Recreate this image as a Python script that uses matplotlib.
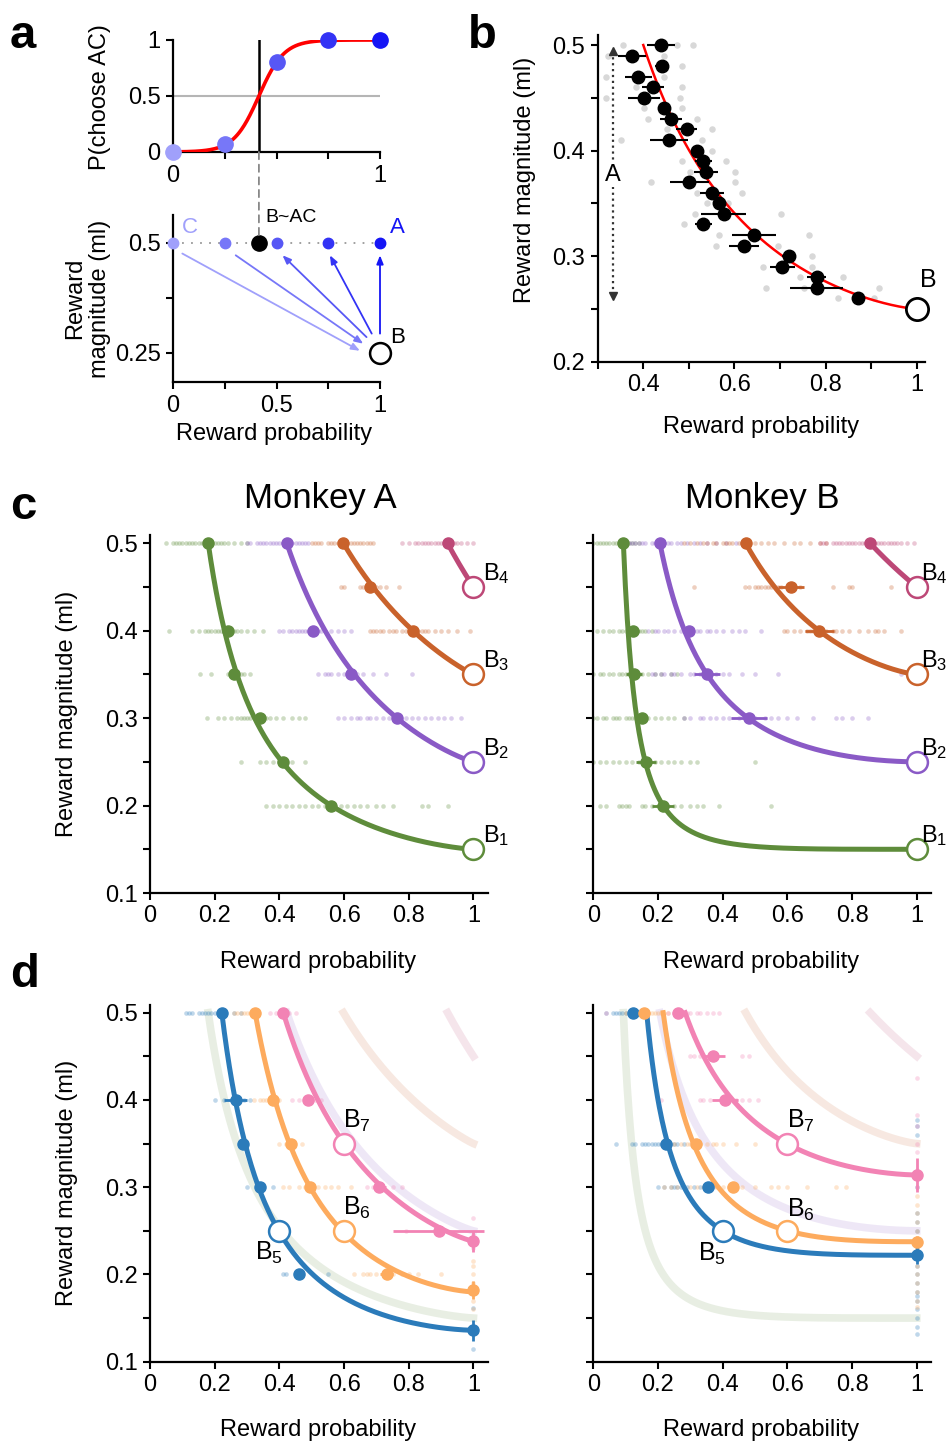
import numpy as np
import matplotlib
matplotlib.use('Agg')
import matplotlib.pyplot as plt
from matplotlib.patches import ConnectionPatch

plt.rcParams['font.family'] = ['Liberation Sans', 'DejaVu Sans']
plt.rcParams['mathtext.fontset'] = 'custom'
plt.rcParams['mathtext.rm'] = 'Liberation Sans'
plt.rcParams['mathtext.it'] = 'Liberation Sans'
plt.rcParams['axes.linewidth'] = 1.6

# ---- panel a: choice between B and gamble AC ----
a_prob = [0, 0.25, 0.5, 0.75, 1]
a_choice = [0, 0.07, 0.8, 1, 1]
a_colors = ['#a0a0fb', '#7777f8', '#5757f5', '#3333f5', '#1515f5']
a_mid = 0.415      # indifference point of the fitted logistic
a_width = 0.061    # logistic slope parameter

# ---- panel b: one indifference curve ----
b_prob = [0.439, 0.376, 0.440, 0.389, 0.422, 0.401, 0.446, 0.460, 0.495, 0.456,
          0.517, 0.532, 0.537, 0.501, 0.551, 0.565, 0.576, 0.532, 0.643, 0.620,
          0.719, 0.705, 0.780, 0.780, 0.870]
b_mag = [0.50, 0.49, 0.48, 0.47, 0.46, 0.45, 0.44, 0.43, 0.42, 0.41,
         0.40, 0.39, 0.38, 0.37, 0.36, 0.35, 0.34, 0.33, 0.32, 0.31,
         0.30, 0.29, 0.28, 0.27, 0.26]
b_err = [0.030, 0.031, 0.015, 0.030, 0.024, 0.035, 0.013, 0.024, 0.023, 0.041,
         0.011, 0.019, 0.026, 0.043, 0.026, 0.013, 0.050, 0.018, 0.049, 0.033,
         0.015, 0.027, 0.020, 0.058, 0.013]
b_gray_prob = [0.356, 0.473, 0.508, 0.323, 0.445, 0.484, 0.318, 0.445, 0.385, 0.484,
               0.318, 0.480, 0.402, 0.485, 0.411, 0.517, 0.451, 0.551, 0.351, 0.528,
               0.551, 0.486, 0.581, 0.502, 0.601, 0.418, 0.601, 0.517, 0.617, 0.539,
               0.585, 0.513, 0.702, 0.490, 0.565, 0.764, 0.559, 0.695, 0.771, 0.770,
               0.662, 0.744, 0.839, 0.669, 0.752, 0.917, 0.828, 0.907]
b_gray_mag = [0.50, 0.50, 0.50, 0.49, 0.49, 0.48, 0.47, 0.47, 0.46, 0.46,
              0.45, 0.45, 0.44, 0.44, 0.43, 0.43, 0.42, 0.42, 0.41, 0.41,
              0.40, 0.39, 0.39, 0.38, 0.38, 0.37, 0.37, 0.36, 0.36, 0.35,
              0.35, 0.34, 0.34, 0.33, 0.32, 0.32, 0.31, 0.31, 0.30, 0.29,
              0.29, 0.28, 0.28, 0.27, 0.27, 0.27, 0.26, 0.26]
b_curve = (0.25, 0.40, 1.38)   # B magnitude, p at 0.5 ml, curvature

# ---- panel c: curves B1..B4 ----
c_colors = ['#5e8c3b', '#8a5ac6', '#c9622b', '#bd4877']
c_labels = ['1', '2', '3', '4']
c_mB = [0.15, 0.25, 0.35, 0.45]
cA_top = [0.18, 0.423, 0.598, 0.92]
cA_gamma = [1.32, 1.15, 1.08, 1.0]
cB_top = [0.093, 0.206, 0.471, 0.856]
cB_gamma = [3.27, 1.75, 1.33, 1.0]

cA_pt_prob = [[0.18, 0.242, 0.26, 0.34, 0.41, 0.56], [0.423, 0.505, 0.62, 0.765],
              [0.598, 0.68, 0.814], [0.92]]
cA_pt_mag = [[0.5, 0.4, 0.35, 0.3, 0.25, 0.2], [0.5, 0.4, 0.35, 0.3],
             [0.5, 0.45, 0.4], [0.5]]
cA_pt_err = [[0, 0.012, 0.01, 0.012, 0, 0], [0, 0.015, 0.015, 0],
             [0, 0, 0], [0]]
cB_pt_prob = [[0.093, 0.122, 0.127, 0.152, 0.163, 0.216], [0.206, 0.296, 0.351, 0.481],
              [0.471, 0.611, 0.698], [0.856]]
cB_pt_mag = [[0.5, 0.4, 0.35, 0.3, 0.25, 0.2], [0.5, 0.4, 0.35, 0.3],
             [0.5, 0.45, 0.4], [0.5]]
cB_pt_err = [[0, 0.02, 0.025, 0.015, 0.03, 0.035], [0, 0.015, 0.04, 0.056],
             [0, 0.04, 0.045], [0]]

# single-session indifference points (rows at each tested magnitude)
cA_dots = [
    [(0.5, [0.05, 0.07, 0.08, 0.09, 0.10, 0.11, 0.12, 0.13, 0.14, 0.15, 0.16, 0.17,
            0.19, 0.20, 0.21, 0.22, 0.23, 0.24, 0.26, 0.28, 0.30]),
     (0.4, [0.06, 0.13, 0.15, 0.17, 0.18, 0.19, 0.20, 0.21, 0.22, 0.23, 0.25, 0.26,
            0.27, 0.28, 0.30, 0.32, 0.35]),
     (0.35, [0.155, 0.19, 0.24, 0.25, 0.27, 0.28, 0.29, 0.31]),
     (0.3, [0.175, 0.21, 0.23, 0.25, 0.27, 0.28, 0.29, 0.30, 0.31, 0.32, 0.33, 0.35,
            0.36, 0.37, 0.39, 0.41, 0.44, 0.46, 0.48]),
     (0.25, [0.28, 0.34, 0.36, 0.38, 0.40, 0.42, 0.44, 0.48]),
     (0.2, [0.36, 0.38, 0.40, 0.42, 0.44, 0.46, 0.48, 0.50, 0.52, 0.54, 0.55, 0.57,
            0.59, 0.61, 0.63, 0.65, 0.67, 0.70, 0.72, 0.75, 0.84, 0.86, 0.92])],
    [(0.5, [0.30, 0.31, 0.33, 0.34, 0.35, 0.36, 0.37, 0.38, 0.39, 0.40, 0.41, 0.43,
            0.44, 0.45, 0.46, 0.47, 0.48, 0.49]),
     (0.4, [0.40, 0.41, 0.43, 0.44, 0.45, 0.46, 0.47, 0.48, 0.49, 0.50, 0.51, 0.52,
            0.53, 0.54, 0.56, 0.58, 0.60, 0.62]),
     (0.35, [0.52, 0.54, 0.55, 0.56, 0.58, 0.60, 0.61, 0.62, 0.64, 0.66, 0.69, 0.73, 0.81]),
     (0.3, [0.58, 0.60, 0.62, 0.64, 0.65, 0.67, 0.68, 0.70, 0.72, 0.74, 0.76, 0.77,
            0.79, 0.81, 0.83, 0.85, 0.87, 0.89, 0.91, 0.93, 0.96])],
    [(0.5, [0.50, 0.51, 0.52, 0.53, 0.55, 0.56, 0.57, 0.58, 0.59, 0.61, 0.62, 0.63,
            0.64, 0.65, 0.66, 0.67, 0.68, 0.69]),
     (0.45, [0.59, 0.60, 0.65, 0.66, 0.67, 0.69, 0.70, 0.71, 0.73, 0.77]),
     (0.4, [0.68, 0.69, 0.70, 0.71, 0.72, 0.74, 0.75, 0.76, 0.78, 0.79, 0.80, 0.82,
            0.83, 0.84, 0.85, 0.86, 0.88, 0.90, 0.92, 0.95, 0.99])],
    [(0.5, [0.78, 0.80, 0.82, 0.83, 0.84, 0.85, 0.86, 0.87, 0.88, 0.89, 0.90, 0.91,
            0.93, 0.94, 0.95, 0.96, 0.98, 1.0])],
]
cB_dots = [
    [(0.5, [0.0, 0.01, 0.02, 0.03, 0.04, 0.05, 0.06, 0.07, 0.08, 0.09, 0.10, 0.11,
            0.12, 0.13, 0.14]),
     (0.4, [0.01, 0.03, 0.05, 0.06, 0.08, 0.09, 0.10, 0.11, 0.13, 0.14, 0.15, 0.16, 0.18]),
     (0.35, [0.0, 0.02, 0.03, 0.05, 0.06, 0.08, 0.09, 0.10, 0.11, 0.12, 0.14, 0.15,
             0.17, 0.19, 0.21, 0.24, 0.26]),
     (0.3, [0.0, 0.01, 0.03, 0.04, 0.06, 0.07, 0.08, 0.10, 0.11, 0.12, 0.13, 0.14,
            0.15, 0.17, 0.19, 0.21, 0.23, 0.25, 0.28]),
     (0.25, [0.0, 0.02, 0.04, 0.06, 0.08, 0.10, 0.12, 0.14, 0.16, 0.19, 0.21, 0.23,
             0.25, 0.27, 0.30, 0.32, 0.50]),
     (0.2, [0.02, 0.04, 0.08, 0.09, 0.10, 0.11, 0.15, 0.16, 0.18, 0.20, 0.23, 0.25,
            0.27, 0.30, 0.32, 0.34, 0.39, 0.55])],
    [(0.5, [0.11, 0.12, 0.13, 0.14, 0.15, 0.16, 0.18, 0.19, 0.20, 0.22, 0.23, 0.24,
            0.26, 0.27, 0.29, 0.31, 0.33, 0.35, 0.38, 0.41, 0.44, 0.47]),
     (0.4, [0.17, 0.19, 0.20, 0.22, 0.23, 0.25, 0.27, 0.28, 0.30, 0.32, 0.33, 0.35,
            0.36, 0.38, 0.40, 0.43, 0.45, 0.47, 0.52]),
     (0.35, [0.18, 0.19, 0.21, 0.22, 0.24, 0.25, 0.27, 0.30, 0.31, 0.33, 0.35, 0.38,
             0.40, 0.42, 0.46, 0.50, 0.57, 0.95]),
     (0.3, [0.28, 0.30, 0.33, 0.34, 0.36, 0.38, 0.40, 0.42, 0.45, 0.47, 0.50, 0.53,
            0.55, 0.57, 0.60, 0.63, 0.68, 0.75, 0.77, 0.80, 0.85])],
    [(0.5, [0.28, 0.30, 0.32, 0.34, 0.35, 0.37, 0.38, 0.40, 0.41, 0.42, 0.43, 0.45,
            0.46, 0.48, 0.50, 0.52, 0.54, 0.56, 0.59, 0.62, 0.64, 0.67, 0.70, 0.72]),
     (0.45, [0.31, 0.47, 0.48, 0.50, 0.51, 0.52, 0.53, 0.54, 0.55, 0.57, 0.58, 0.61,
             0.64, 0.74, 0.79, 0.80, 0.92]),
     (0.4, [0.59, 0.60, 0.62, 0.64, 0.66, 0.67, 0.68, 0.70, 0.72, 0.74, 0.75, 0.77,
            0.79, 0.82, 0.85, 0.87, 0.88, 0.90, 0.95])],
    [(0.5, [0.70, 0.71, 0.72, 0.74, 0.75, 0.76, 0.77, 0.78, 0.79, 0.80, 0.81, 0.82,
            0.83, 0.84, 0.86, 0.87, 0.88, 0.89, 0.90, 0.91, 0.92, 0.93, 0.94, 0.95,
            0.97, 0.99])],
]

# ---- panel d: curves B5..B7 ----
d_colors = ['#2b7bba', '#fdab5e', '#f283b4']
d_labels = ['5', '6', '7']
d_B_prob = [0.4, 0.6, 0.6]
d_B_mag = [0.25, 0.25, 0.35]
dA_mB = [0.136, 0.18, 0.238]
dA_top = [0.222, 0.325, 0.412]
dA_gamma = [1.55, 1.48, 1.185]
dB_mB = [0.222, 0.2375, 0.314]
dB_top = [0.165, 0.216, 0.284]
dB_gamma = [2.84, 2.43, 1.625]
d_label_x = [0.325, 0.598, 0.598]
d_label_yA = [0.217, 0.268, 0.368]
d_label_yB = [0.216, 0.266, 0.368]

dA_pt_prob = [[0.222, 0.265, 0.287, 0.34, 0.462, 1.0],
              [0.325, 0.379, 0.435, 0.495, 0.732, 1.0],
              [0.412, 0.49, 0.709, 0.892, 1.0]]
dA_pt_mag = [[0.5, 0.4, 0.35, 0.3, 0.2, 0.136],
             [0.5, 0.4, 0.35, 0.3, 0.2, 0.182],
             [0.5, 0.4, 0.3, 0.25, 0.238]]
dA_pt_xerr = [[0, 0.035, 0, 0.012, 0.012, 0],
              [0, 0.015, 0.01, 0.01, 0.02, 0],
              [0, 0, 0.02, 0.14, 0]]
dA_pt_yerr = [[0, 0, 0, 0, 0, 0.012],
              [0, 0, 0, 0, 0, 0.01],
              [0, 0, 0, 0, 0.012]]
dB_pt_prob = [[0.124, 0.225, 0.356, 1.0],
              [0.158, 0.318, 0.433, 1.0],
              [0.263, 0.371, 0.407, 1.0]]
dB_pt_mag = [[0.5, 0.35, 0.3, 0.222],
             [0.5, 0.35, 0.3, 0.2375],
             [0.5, 0.45, 0.4, 0.314]]
dB_pt_xerr = [[0, 0.01, 0.01, 0],
              [0, 0.01, 0.015, 0],
              [0, 0.035, 0.04, 0]]
dB_pt_yerr = [[0, 0, 0, 0.01],
              [0, 0, 0, 0.006],
              [0, 0, 0, 0.02]]

dA_dots = [
    [(0.5, [0.11, 0.12, 0.13, 0.15, 0.16, 0.17, 0.18, 0.19, 0.20, 0.21, 0.26, 0.28]),
     (0.4, [0.20, 0.23, 0.25, 0.27, 0.29, 0.31]),
     (0.3, [0.30, 0.34, 0.38]),
     (0.2, [0.41, 0.42, 0.55])],
    [(0.5, [0.26, 0.27, 0.28, 0.29, 0.30, 0.31, 0.32]),
     (0.4, [0.32, 0.34, 0.35, 0.36, 0.37, 0.39, 0.40]),
     (0.35, [0.40, 0.42, 0.44, 0.47]),
     (0.3, [0.41, 0.43, 0.46, 0.48, 0.50, 0.52, 0.54, 0.56, 0.58, 0.62]),
     (0.2, [0.63, 0.66, 0.67, 0.68, 0.70, 0.72, 0.75, 0.78, 0.80, 0.83, 0.90])],
    [(0.5, [0.37, 0.39, 0.40, 0.41, 0.42, 0.43, 0.45]),
     (0.4, [0.44, 0.46, 0.48, 0.50, 0.51, 0.53]),
     (0.3, [0.67, 0.69, 0.72, 0.75, 0.78]),
     (0.25, [0.79, 0.89])],
]
dA_col = [[0.162, 0.115],
          [0.215, 0.21, 0.20, 0.19, 0.17, 0.16],
          [0.265, 0.245, 0.23]]
dB_dots = [
    [(0.5, [0.04, 0.06, 0.07, 0.08, 0.09, 0.10, 0.11, 0.12, 0.13, 0.14]),
     (0.35, [0.07, 0.12, 0.13, 0.15, 0.16, 0.17, 0.18, 0.19, 0.20, 0.21, 0.23, 0.24,
             0.25, 0.26, 0.28]),
     (0.3, [0.20, 0.22, 0.24, 0.25, 0.26, 0.27, 0.29, 0.31, 0.33, 0.35, 0.37])],
    [(0.5, [0.10, 0.12, 0.14, 0.15, 0.16, 0.17, 0.18, 0.19, 0.20, 0.21, 0.22, 0.23]),
     (0.35, [0.23, 0.25, 0.27, 0.29, 0.30, 0.31, 0.33, 0.35, 0.37, 0.38, 0.40, 0.44, 0.50]),
     (0.3, [0.22, 0.24, 0.26, 0.28, 0.30, 0.32, 0.34, 0.36, 0.38, 0.40, 0.42, 0.44,
            0.46, 0.50, 0.55, 0.57, 0.60, 0.66, 0.75, 0.78])],
    [(0.5, [0.04, 0.23, 0.25, 0.27, 0.29, 0.30, 0.32, 0.33, 0.35, 0.37, 0.39]),
     (0.45, [0.30, 0.31, 0.33, 0.36, 0.46, 0.48]),
     (0.4, [0.21, 0.33, 0.34, 0.36, 0.42, 0.44, 0.46, 0.48, 0.51])],
]
dB_col = [[0.377, 0.37, 0.36, 0.30, 0.27, 0.26, 0.25, 0.24, 0.23, 0.21, 0.20, 0.19,
           0.18, 0.175, 0.17, 0.16, 0.15, 0.14, 0.132],
          [0.29, 0.28, 0.27, 0.26, 0.25, 0.24, 0.23, 0.22, 0.21, 0.20, 0.19, 0.18,
           0.17, 0.163],
          [0.425, 0.383, 0.37, 0.35, 0.34, 0.32, 0.31, 0.30]]


def indiff(mB, p_top, gamma, n=300):
    # fitted indifference curve: magnitude needed at probability p
    p = np.linspace(p_top, 1, n)
    kappa = np.log(0.5 / mB) / (-np.log(p_top)) ** gamma
    return p, mB * np.exp(kappa * (-np.log(p)) ** gamma)


def style(ax):
    ax.spines[['top', 'right']].set_visible(False)
    ax.tick_params(direction='out', length=5, width=1.5, labelsize=17, pad=4)


def fmt(v):
    return '%g' % v


fig = plt.figure(figsize=(9.49, 14.43), dpi=100)
W, H = 949.0, 1443.0


def add_axes(x0, y0, x1, y1):
    return fig.add_axes([x0 / W, 1 - y1 / H, (x1 - x0) / W, (y1 - y0) / H])


# ================= panel a (top) =================
ax = add_axes(173, 40, 380, 152)
style(ax)
ax.set_xlim(0, 1)
ax.set_ylim(0, 1)
ax.axhline(0.5, color='#b5b5b5', lw=1.5, zorder=1)
ax.plot([a_mid, a_mid], [0, 1], color='k', lw=1.8, zorder=2)
pp = np.linspace(0, 1, 300)
ax.plot(pp, 1 / (1 + np.exp(-(pp - a_mid) / a_width)), color='#ff0000', lw=2.6, zorder=3)
for p, c, col in zip(a_prob, a_choice, a_colors):
    ax.plot(p, c, 'o', ms=11, color=col, zorder=4, clip_on=False)
ax.set_xticks([0, 0.25, 0.5, 0.75, 1])
ax.set_xticklabels(['0', '', '', '', '1'])
ax.set_yticks([0, 0.5, 1])
ax.set_yticklabels(['0', '0.5', '1'])
ax.set_ylabel('P(choose AC)', fontsize=17)
ax.yaxis.set_label_coords(-0.30, 0.49)
ax_top = ax

# ================= panel a (bottom) =================
ax = add_axes(173, 215, 380, 382)
style(ax)
ax.set_xlim(0, 1)
ax.set_ylim(0.184, 0.5636)
ax.plot([0, 1], [0.5, 0.5], ls=(0, (1, 4)), color='#999999', lw=1.3, zorder=1)
for p, col in zip(a_prob, a_colors):
    ax.plot(p, 0.5, 'o', ms=7.5, color=col, zorder=4, clip_on=False)
ax.plot(a_mid, 0.5, 'o', ms=11, color='k', zorder=5)
ax.plot(1, 0.25, 'o', ms=15, mfc='white', mec='k', mew=1.8, zorder=5, clip_on=False)
arrows = [((1.0, 0.294), (1.0, 0.472), a_colors[4]),
          ((0.96, 0.294), (0.758, 0.472), a_colors[3]),
          ((0.935, 0.286), (0.529, 0.472), a_colors[2]),
          ((0.303, 0.472), (0.919, 0.271), a_colors[1]),
          ((0.045, 0.476), (0.903, 0.255), a_colors[0])]
for start, end, col in arrows:
    ax.annotate('', xy=end, xytext=start,
                arrowprops=dict(arrowstyle='-|>,head_length=0.5,head_width=0.2',
                                color=col, lw=1.3, shrinkA=0, shrinkB=0), zorder=3)
ax.text(0.043, 0.523, 'C', color=a_colors[0], fontsize=16, va='baseline')
ax.text(1.048, 0.523, 'A', color=a_colors[4], fontsize=16, va='baseline')
ax.text(1.048, 0.273, 'B', color='k', fontsize=16, va='baseline')
ax.text(0.444, 0.548, 'B~AC', color='k', fontsize=14, va='baseline')
ax.set_xticks([0, 0.25, 0.5, 0.75, 1])
ax.set_xticklabels(['0', '', '0.5', '', '1'])
ax.set_yticks([0.25, 0.375, 0.5])
ax.set_yticklabels(['0.25', '', '0.5'])
ax.set_ylabel('Reward\nmagnitude (ml)', fontsize=17, linespacing=1.15)
ax.yaxis.set_label_coords(-0.30, 0.50)
ax.set_xlabel('Reward probability', fontsize=17)
ax.xaxis.set_label_coords(0.49, -0.245)
con = ConnectionPatch(xyA=(a_mid, 0), coordsA=ax_top.transData,
                      xyB=(a_mid, 0.51), coordsB=ax.transData,
                      color='#888888', lw=1.3, ls=(0, (4, 3)))
fig.add_artist(con)

# ================= panel b =================
ax = add_axes(597.7, 35, 925, 361.7)
style(ax)
ax.set_xlim(0.3, 1.018)
ax.set_ylim(0.2, 0.5095)
ax.scatter(b_gray_prob, b_gray_mag, s=22, color='#d8d8d8', lw=0, zorder=1)
bp, bm = indiff(*b_curve)
ax.plot(bp, bm, color='#ff0000', lw=1.8, zorder=2)
ax.errorbar(b_prob, b_mag, xerr=b_err, fmt='o', ms=9, color='k',
            elinewidth=1.5, capsize=0, zorder=3)
ax.plot(1, 0.25, 'o', ms=16, mfc='white', mec='k', mew=2, zorder=5, clip_on=False)
ax.text(1.007, 0.271, 'B', fontsize=18, va='baseline', ha='left')
ax.plot([0.333, 0.333], [0.263, 0.492], ls=':', color='#333333', lw=1.6, zorder=2)
ax.plot(0.333, 0.494, '^', ms=6, color='#333333', zorder=2)
ax.plot(0.333, 0.262, 'v', ms=6, color='#333333', zorder=2)
ax.text(0.333, 0.377, 'A', fontsize=17, ha='center', va='center', zorder=4,
        bbox=dict(facecolor='white', edgecolor='none', pad=1))
ax.set_xticks([0.3, 0.4, 0.5, 0.6, 0.7, 0.8, 0.9, 1.0])
ax.set_xticklabels(['', '0.4', '', '0.6', '', '0.8', '', '1'])
ax.set_yticks([0.2, 0.25, 0.3, 0.35, 0.4, 0.45, 0.5])
ax.set_yticklabels(['0.2', '', '0.3', '', '0.4', '', '0.5'])
ax.set_ylabel('Reward magnitude (ml)', fontsize=17)
ax.yaxis.set_label_coords(-0.19, 0.556)
ax.set_xlabel('Reward probability', fontsize=17)
ax.xaxis.set_label_coords(0.499, -0.165)


def grid_axes(ax, show_y):
    style(ax)
    ax.set_xlim(0, 1.045)
    ax.set_xticks([0, 0.2, 0.4, 0.6, 0.8, 1])
    ax.set_xticklabels([fmt(v) for v in [0, 0.2, 0.4, 0.6, 0.8, 1]])
    yt = [0.1, 0.15, 0.2, 0.25, 0.3, 0.35, 0.4, 0.45, 0.5]
    ax.set_yticks(yt)
    if show_y:
        ax.set_yticklabels(['0.1', '', '0.2', '', '0.3', '', '0.4', '', '0.5'])
        ax.set_ylabel('Reward magnitude (ml)', fontsize=17)
        ax.yaxis.set_label_coords(-0.213, 0.5)
    else:
        ax.set_yticklabels([])
    ax.set_xlabel('Reward probability', fontsize=17)
    ax.xaxis.set_label_coords(0.497, -0.162)


def draw_dots(ax, rows, col):
    for y, xs in rows:
        ax.scatter(xs, [y] * len(xs), s=11, color=col, alpha=0.3, lw=0, zorder=2)


# ================= panel c =================
for x0, top, gam, pt_p, pt_m, pt_e, dots, lab_x in [
        (150, cA_top, cA_gamma, cA_pt_prob, cA_pt_mag, cA_pt_err, cA_dots, 1.03),
        (593.3, cB_top, cB_gamma, cB_pt_prob, cB_pt_mag, cB_pt_err, cB_dots, 1.012)]:
    ax = add_axes(x0, 535, x0 + 338, 893)
    ax.set_ylim(0.1, 0.5095)
    grid_axes(ax, x0 < 300)
    for i, col in enumerate(c_colors):
        draw_dots(ax, dots[i], col)
    for i, col in enumerate(c_colors):
        cp, cm = indiff(c_mB[i], top[i], gam[i])
        ax.plot(cp, cm, color=col, lw=3.6, zorder=3, solid_capstyle='round')
        ax.errorbar(pt_p[i], pt_m[i], xerr=pt_e[i], fmt='o', ms=8, color=col,
                    elinewidth=2, capsize=0, zorder=4)
        ax.plot(1, c_mB[i], 'o', ms=15, mfc='white', mec=col, mew=1.8, zorder=6,
                clip_on=False)
        ax.text(lab_x, c_mB[i] + 0.008, r'B$_{\mathregular{%s}}$' % c_labels[i],
                fontsize=17, va='baseline', ha='left', clip_on=False, zorder=7)

fig.text(320 / W, 1 - 508 / H, 'Monkey A', fontsize=25, ha='center', va='baseline')
fig.text(762 / W, 1 - 508 / H, 'Monkey B', fontsize=25, ha='center', va='baseline')

# ================= panel d =================
for x0, ctop, cgam, mB, top, gam, pt_p, pt_m, pt_xe, pt_ye, dots, col1, lab_y in [
        (150, cA_top, cA_gamma, dA_mB, dA_top, dA_gamma, dA_pt_prob, dA_pt_mag,
         dA_pt_xerr, dA_pt_yerr, dA_dots, dA_col, d_label_yA),
        (593.3, cB_top, cB_gamma, dB_mB, dB_top, dB_gamma, dB_pt_prob, dB_pt_mag,
         dB_pt_xerr, dB_pt_yerr, dB_dots, dB_col, d_label_yB)]:
    ax = add_axes(x0, 1005, x0 + 338, 1361.7)
    ax.set_ylim(0.1, 0.5088)
    grid_axes(ax, x0 < 300)
    # curves from panel c, faded
    for i, col in enumerate(c_colors):
        cp, cm = indiff(c_mB[i], ctop[i], cgam[i])
        ax.plot(cp, cm, color=col, lw=5.5, alpha=0.14, zorder=1)
    for i, col in enumerate(d_colors):
        draw_dots(ax, dots[i], col)
        ax.scatter([1.0] * len(col1[i]), col1[i], s=11, color=col, alpha=0.3,
                   lw=0, zorder=2, clip_on=False)
    for i, col in enumerate(d_colors):
        cp, cm = indiff(mB[i], top[i], gam[i])
        ax.plot(cp, cm, color=col, lw=3.6, zorder=3)
        ax.errorbar(pt_p[i], pt_m[i], xerr=pt_xe[i], yerr=pt_ye[i], fmt='o', ms=8,
                    color=col, elinewidth=2, capsize=0, zorder=4, clip_on=False)
        ax.plot(d_B_prob[i], d_B_mag[i], 'o', ms=15, mfc='white', mec=col, mew=1.8,
                zorder=6)
        ax.text(d_label_x[i], lab_y[i], r'B$_{\mathregular{%s}}$' % d_labels[i],
                fontsize=18, va='baseline', ha='left', zorder=7)

# panel letters
for letter, x, y in [('a', 10, 48), ('b', 468, 48), ('c', 10, 519), ('d', 10, 987)]:
    fig.text(x / W, 1 - y / H, letter, fontsize=34, fontweight='bold', va='baseline')

fig.savefig('out.png', dpi=100)
